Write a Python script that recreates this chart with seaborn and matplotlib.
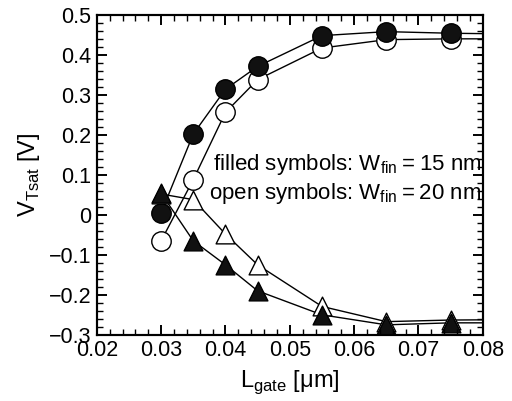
import matplotlib
matplotlib.use("Agg")
import matplotlib.pyplot as plt
from matplotlib.ticker import MultipleLocator, FuncFormatter
import seaborn as sns
import pandas as pd

# Gate length [um]; last entry continues the curves to the right frame edge
l_gate = [0.030, 0.035, 0.040, 0.045, 0.055, 0.065, 0.075, 0.085]
n_meas = 7

# Saturation threshold voltage [V]
circ_15nm = [0.005, 0.202, 0.314, 0.371, 0.448, 0.458, 0.454, 0.452]
circ_20nm = [-0.065, 0.088, 0.256, 0.338, 0.417, 0.438, 0.440, 0.440]
tri_15nm = [0.054, -0.065, -0.125, -0.190, -0.250, -0.275, -0.270, -0.270]
tri_20nm = [0.052, 0.038, -0.048, -0.125, -0.229, -0.267, -0.263, -0.262]

x_lim = (0.02, 0.08)
y_lim = (-0.3, 0.5)

sns.set_style("ticks")
plt.rcParams["font.family"] = ["Liberation Sans", "DejaVu Sans"]
plt.rcParams.update({
    "axes.edgecolor": "black",
    "axes.linewidth": 1.5,
    "xtick.color": "black",
    "ytick.color": "black",
    "xtick.labelsize": 15.5,
    "ytick.labelsize": 15.5,
})

fig = plt.figure(figsize=(5.12, 4.01), dpi=100)
rect = [0.189, 0.165, 0.754, 0.798]
ax = fig.add_axes(rect)

series = [
    (circ_20nm, "o", "white", 14.0),
    (circ_15nm, "o", "#111111", 14.0),
    (tri_20nm, "^", "white", 13.5),
    (tri_15nm, "^", "#111111", 13.5),
]

for vals, mk, face, ms in series:
    df = pd.DataFrame({"L": l_gate, "V": vals})
    sns.lineplot(data=df, x="L", y="V", color="black", linewidth=1.0,
                 sort=False, ax=ax, zorder=2)
    dm = df.iloc[:n_meas]
    sns.scatterplot(data=dm, x="L", y="V", marker=mk, s=ms ** 2,
                    facecolor=face, edgecolor="black", linewidth=1.0,
                    ax=ax, zorder=3)

ax.set_xlabel("L$_\\mathregular{gate}$ [\u03bcm]", fontsize=17, color="black", labelpad=5)
ax.set_ylabel("V$_\\mathregular{Tsat}$ [V]", fontsize=17, color="black", labelpad=5)

ax.text(0.0797, 0.127, "filled symbols: W$_\\mathregular{fin}$\u2009=\u200915 nm",
        fontsize=16, ha="right", va="center", color="black", zorder=1)
ax.text(0.0797, 0.053, "open symbols: W$_\\mathregular{fin}$\u2009=\u200920 nm",
        fontsize=16, ha="right", va="center", color="black", zorder=1)

ax.set_xlim(*x_lim)
ax.set_ylim(*y_lim)
ax.xaxis.set_major_locator(MultipleLocator(0.01))
ax.yaxis.set_major_locator(MultipleLocator(0.1))
ax.tick_params(which="major", direction="in", top=True, right=True,
               bottom=True, left=True, color="black", labelcolor="black",
               length=7, width=1.2, pad=4)


def yfmt(v, p):
    if abs(v) < 1e-9:
        return "0"
    return f"{v:.1f}".replace("-", "\u2212")


ax.xaxis.set_major_formatter(FuncFormatter(lambda v, p: f"{v:.2f}"))
ax.yaxis.set_major_formatter(FuncFormatter(yfmt))

# Transparent frame on top carrying the full inward tick set (major + minor)
tax = fig.add_axes(rect, facecolor="none")
tax.set_xlim(*x_lim)
tax.set_ylim(*y_lim)
tax.xaxis.set_major_locator(MultipleLocator(0.01))
tax.xaxis.set_minor_locator(MultipleLocator(0.002))
tax.yaxis.set_major_locator(MultipleLocator(0.1))
tax.yaxis.set_minor_locator(MultipleLocator(0.02))
tax.tick_params(which="both", direction="in", top=True, right=True,
                bottom=True, left=True, color="black",
                labelbottom=False, labelleft=False)
tax.tick_params(which="major", length=7, width=1.2)
tax.tick_params(which="minor", length=4, width=1.0)

fig.savefig("out.png", dpi=100)
